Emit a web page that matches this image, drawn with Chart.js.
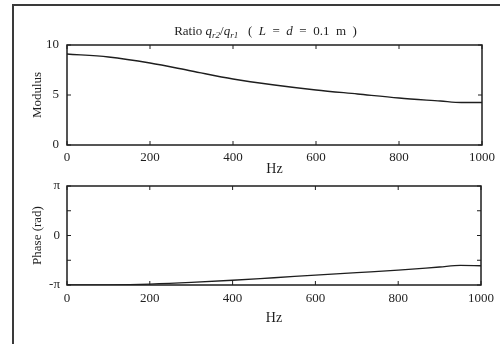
<!DOCTYPE html>
<html lang="en">
<head>
    <meta charset="UTF-8">
    <title>Ratio modulus and phase</title>
    <script src="https://cdn.jsdelivr.net/npm/chart.js"></script>
    <style>
        body {
            margin: 0;
            background: #fff;
            width: 500px;
            height: 344px;
            overflow: hidden;
            position: relative;
        }
        /* cornice della figura */
        .frame {
            position: absolute;
            left: 12px;
            top: 4px;
            width: 520px;
            height: 360px;
            border-left: 2px solid #3a3a3a;
            border-top: 2px solid #3a3a3a;
        }
        canvas {
            position: absolute;
            left: 0;
        }
        #modChart { top: 0; }
        #phaseChart { top: 160px; }
    </style>
</head>
<body>
    <div class="frame"></div>
    <canvas id="modChart" width="500" height="180"></canvas>
    <canvas id="phaseChart" width="500" height="184"></canvas>
<script>
    // dati
    const freq = [0, 100, 200, 300, 400, 500, 600, 700, 800, 900, 950, 1000];
    const modulus = [9.1, 8.8, 8.2, 7.4, 6.6, 6.0, 5.5, 5.1, 4.7, 4.4, 4.25, 4.25];
    const phase = [-3.14, -3.13, -3.08, -2.98, -2.84, -2.68, -2.52, -2.36, -2.2, -2.0, -1.9, -1.92];
    const xTicks = [0, 200, 400, 600, 800, 1000];
    const modTicks = [0, 5, 10];
    const phaseTicks = [-Math.PI, -Math.PI / 2, 0, Math.PI / 2, Math.PI];
    const phaseLabels = { "-3.14": "-π", "0.00": "0", "3.14": "π" };

    const serif = "'Liberation Serif', 'DejaVu Serif', serif";
    const ink = "#1e1e1e";

    // riquadro e tacche verso l'interno
    const boxPlugin = {
        id: "box",
        afterDraw(chart) {
            const ctx = chart.ctx, a = chart.chartArea;
            const xs = chart.scales.x, ys = chart.scales.y;
            ctx.save();
            ctx.strokeStyle = ink;
            ctx.lineWidth = 1.5;
            ctx.strokeRect(a.left, a.top, a.right - a.left, a.bottom - a.top);
            ctx.lineWidth = 1;
            ctx.beginPath();
            xs.ticks.forEach(t => {
                const px = xs.getPixelForValue(t.value);
                ctx.moveTo(px, a.bottom); ctx.lineTo(px, a.bottom - 4);
                ctx.moveTo(px, a.top); ctx.lineTo(px, a.top + 4);
            });
            ys.ticks.forEach(t => {
                const py = ys.getPixelForValue(t.value);
                ctx.moveTo(a.left, py); ctx.lineTo(a.left + 4, py);
                ctx.moveTo(a.right, py); ctx.lineTo(a.right - 4, py);
            });
            ctx.stroke();
            ctx.restore();
        }
    };

    // titolo con pedici
    const titleParts = [
        ["Ratio ", "n"], ["q", "i"], ["r2", "s"], ["/", "n"], ["q", "i"], ["r1", "s"],
        ["   (  ", "n"], ["L", "i"], ["  =  ", "n"], ["d", "i"], ["  =  0.1  m  )", "n"]
    ];
    const titlePlugin = {
        id: "subTitle",
        afterDraw(chart) {
            const ctx = chart.ctx;
            const fontOf = k => k === "i" ? "italic 13px " + serif : k === "s" ? "italic 9px " + serif : "13px " + serif;
            ctx.save();
            ctx.fillStyle = ink;
            ctx.textBaseline = "alphabetic";
            let w = 0;
            titleParts.forEach(p => { ctx.font = fontOf(p[1]); w += ctx.measureText(p[0]).width; });
            let x = (chart.chartArea.left + chart.chartArea.right) / 2 - w / 2 - 9;
            titleParts.forEach(p => {
                ctx.font = fontOf(p[1]);
                ctx.fillText(p[0], x, p[1] === "s" ? 38 : 35);
                x += ctx.measureText(p[0]).width;
            });
            ctx.restore();
        }
    };

    function xScale(tickPad, titlePad) {
        return {
            type: "linear", min: 0, max: 1000,
            afterBuildTicks: s => { s.ticks = xTicks.map(v => ({ value: v })); },
            grid: { display: false, drawTicks: false },
            border: { display: false },
            ticks: { color: ink, font: { family: serif, size: 13 }, padding: tickPad, maxRotation: 0, callback: v => String(v) },
            title: { display: true, text: "Hz", color: ink, font: { family: serif, size: 14 }, padding: { top: 0, bottom: titlePad } }
        };
    }

    function yTitle(text) {
        return { display: true, text: text, color: ink, font: { family: serif, size: 13 }, padding: { top: 30, bottom: 0 } };
    }

    new Chart(document.getElementById("modChart"), {
        type: "line",
        data: {
            datasets: [{
                data: freq.map((f, i) => ({ x: f, y: modulus[i] })),
                borderColor: ink, borderWidth: 1.3, pointRadius: 0,
                cubicInterpolationMode: "monotone"
            }]
        },
        options: {
            responsive: false, animation: false,
            layout: { padding: { top: 45, right: 18, left: 0, bottom: 0 } },
            plugins: { legend: { display: false }, tooltip: { enabled: false } },
            scales: {
                x: Object.assign(xScale(5, 2), { afterFit: s => { s.height = 35; } }),
                y: {
                    min: 0, max: 10,
                    afterBuildTicks: s => { s.ticks = modTicks.map(v => ({ value: v })); },
                    afterFit: s => { s.width = 67; },
                    grid: { display: false, drawTicks: false },
                    border: { display: false },
                    ticks: { color: ink, font: { family: serif, size: 13 }, padding: 8 },
                    title: yTitle("Modulus")
                }
            }
        },
        plugins: [boxPlugin, titlePlugin]
    });

    new Chart(document.getElementById("phaseChart"), {
        type: "line",
        data: {
            datasets: [{
                data: freq.map((f, i) => ({ x: f, y: phase[i] })),
                borderColor: ink, borderWidth: 1.3, pointRadius: 0,
                cubicInterpolationMode: "monotone"
            }]
        },
        options: {
            responsive: false, animation: false,
            layout: { padding: { top: 26, right: 18, left: 0, bottom: 0 } },
            plugins: { legend: { display: false }, tooltip: { enabled: false } },
            scales: {
                x: Object.assign(xScale(6, 17), { afterFit: s => { s.height = 59; } }),
                y: {
                    min: -Math.PI, max: Math.PI,
                    afterBuildTicks: s => { s.ticks = phaseTicks.map(v => ({ value: v })); },
                    afterFit: s => { s.width = 67; },
                    grid: { display: false, drawTicks: false },
                    border: { display: false },
                    ticks: {
                        color: ink, font: { family: serif, size: 13 }, padding: 7,
                        callback: v => phaseLabels[v.toFixed(2)] || ""
                    },
                    title: yTitle("Phase (rad)")
                }
            }
        },
        plugins: [boxPlugin]
    });
</script>
</body>
</html>
